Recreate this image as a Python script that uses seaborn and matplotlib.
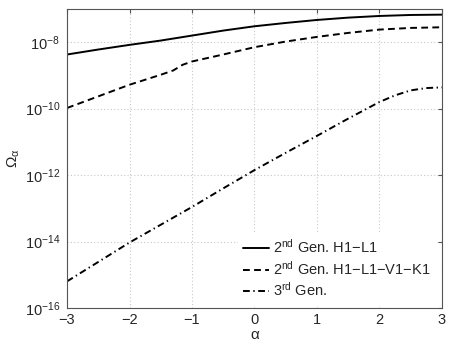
import numpy as np
import pandas as pd
import matplotlib
matplotlib.use("Agg")
import matplotlib.pyplot as plt
import seaborn as sns

# values (log10 of Omega_alpha)
alpha_h1l1 = [-3, -2.5, -2, -1.5, -1, -0.5, 0, 0.5, 1, 1.5, 2, 2.5, 3]
log_h1l1 = [-8.37, -8.22, -8.08, -7.95, -7.80, -7.65, -7.52, -7.42, -7.33, -7.26, -7.21, -7.18, -7.17]

alpha_net = [-3, -2.5, -2, -1.5, -1.3, -1.15, -1, -0.5, 0, 0.5, 1, 1.5, 2, 2.5, 3]
log_net = [-9.98, -9.63, -9.28, -8.98, -8.85, -8.68, -8.58, -8.37, -8.15, -7.98, -7.84, -7.72, -7.62, -7.57, -7.55]

alpha_3g = [-3, -2, -1, -0.5, 0, 0.5, 1, 1.5, 2, 2.25, 2.5, 2.75, 3]
log_3g = [-15.2, -14.03, -12.96, -12.4, -11.85, -11.33, -10.82, -10.30, -9.80, -9.60, -9.45, -9.38, -9.36]

labels = ["2$^{\\rm nd}$ Gen. H1$-$L1",
          "2$^{\\rm nd}$ Gen. H1$-$L1$-$V1$-$K1",
          "3$^{\\rm rd}$ Gen."]

sns.set_style("white")
plt.rcParams['font.family'] = ['Liberation Sans', 'DejaVu Sans']
plt.rcParams['mathtext.fontset'] = 'custom'
plt.rcParams['mathtext.rm'] = 'Liberation Sans'
plt.rcParams['mathtext.it'] = 'Liberation Sans'

fig = plt.figure(figsize=(4.5, 3.46), dpi=100)
ax = fig.add_axes([0.149, 0.110, 0.833, 0.864])

df1 = pd.DataFrame({"a": alpha_h1l1, "o": 10.0 ** np.array(log_h1l1)})
df2 = pd.DataFrame({"a": alpha_net, "o": 10.0 ** np.array(log_net)})
df3 = pd.DataFrame({"a": alpha_3g, "o": 10.0 ** np.array(log_3g)})

sns.lineplot(data=df1, x="a", y="o", ax=ax, color="black", lw=1.4, label=labels[0])
sns.lineplot(data=df2, x="a", y="o", ax=ax, color="black", lw=1.4, label=labels[1])
ax.lines[-1].set_dashes((3.5, 2.2))
sns.lineplot(data=df3, x="a", y="o", ax=ax, color="black", lw=1.4, label=labels[2])
ax.lines[-1].set_dashes((3.5, 1.8, 0.7, 1.8))

ax.set_yscale("log")
ax.set_xlim(-3, 3)
ax.set_ylim(1e-16, 1e-7)
ax.set_xticks([-3, -2, -1, 0, 1, 2, 3])
ax.set_xticklabels(["\u22123", "\u22122", "\u22121", "0", "1", "2", "3"])
ax.set_yticks([1e-16, 1e-14, 1e-12, 1e-10, 1e-8])
ax.set_yticklabels(["10$^{-16}$", "10$^{-14}$", "10$^{-12}$", "10$^{-10}$", "10$^{-8}$"])
ax.yaxis.set_minor_locator(matplotlib.ticker.NullLocator())

ax.grid(True, which="major", color="#c8c8c8", linestyle=(0, (1, 2)), lw=0.8)
for s in ax.spines.values():
    s.set_color("#555555")
    s.set_linewidth(0.8)
ax.tick_params(direction="in", length=3, color="#555555", labelsize=10.5,
               top=True, right=True)
ax.tick_params(axis="x", pad=4)
ax.tick_params(axis="y", pad=5)

ax.set_xlabel("\u03b1", fontsize=11, labelpad=0.5)
ax.set_ylabel("\u03a9$_{\\alpha}$", fontsize=11, labelpad=2)

leg = ax.legend(loc="lower right", bbox_to_anchor=(0.99, 0.005), frameon=True,
                fontsize=10.5, handlelength=1.8, handletextpad=0.3,
                labelspacing=0.25, borderpad=0.3, borderaxespad=0.2)
leg.get_frame().set_edgecolor("white")
leg.get_frame().set_facecolor("white")
leg.get_frame().set_alpha(1.0)
leg.get_frame().set_boxstyle("square", pad=0)

fig.savefig("out.png", dpi=100)
